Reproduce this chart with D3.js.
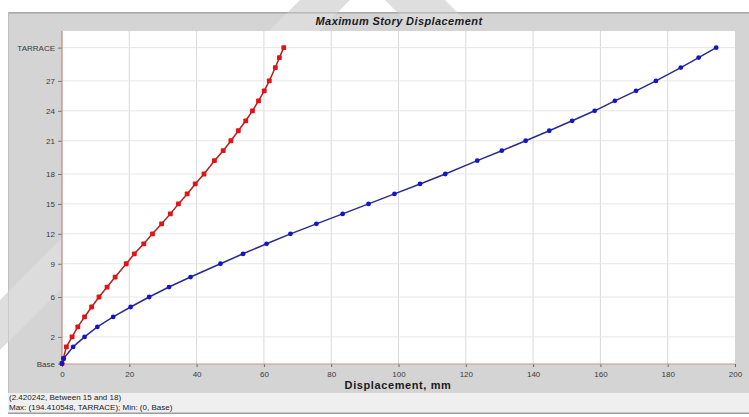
<!DOCTYPE html>
<html>
<head>
<meta charset="utf-8">
<script src="https://cdn.jsdelivr.net/npm/d3@7"></script>
<style>
  html, body { margin: 0; padding: 0; background: #ffffff; }
  svg { display: block; font-family: "Liberation Sans", Arial, sans-serif; }
</style>
</head>
<body>
<svg id="chart" width="749" height="417"></svg>
<script>
// Story levels (name and elevation in m)
const storyNames = ["Base", "Plinth", "1", "2", "3", "4", "5", "6", "7", "8", "9", "10",
  "11", "12", "13", "14", "15", "16", "17", "18", "19", "20", "21", "22", "23", "24",
  "25", "26", "27", "28", "29", "TARRACE"];
const storyElevations = [0, 1.5, 5, 8, 11, 14, 17, 20, 23, 26, 30, 33, 36, 39, 42, 45,
  48, 51, 54, 57, 61, 64, 67, 70, 73, 76, 79, 82, 85, 89, 92, 95];

// Maximum story displacement, mm
const dispRed = [0, 0.4, 1.3, 3.0, 4.7, 6.7, 8.8, 11.0, 13.4, 15.8, 19.1, 21.5, 24.3,
  26.9, 29.6, 32.2, 34.6, 37.2, 39.6, 42.2, 45.3, 47.9, 50.2, 52.4, 54.6, 56.6, 58.4,
  60.1, 61.6, 63.4, 64.6, 65.9];
const dispBlue = [0, 0.5, 3.3, 6.7, 10.5, 15.2, 20.4, 25.9, 31.8, 38.2, 47.1, 53.8,
  60.8, 67.9, 75.6, 83.4, 91.1, 98.8, 106.4, 113.9, 123.4, 130.7, 137.8, 144.8, 151.6,
  158.3, 164.3, 170.6, 176.5, 183.9, 189.2, 194.41];

// Axis ticks
const yTickStories = ["Base", "2", "6", "9", "12", "15", "18", "21", "24", "27", "TARRACE"];
const xTicks = [0, 20, 40, 60, 80, 100, 120, 140, 160, 180, 200];

const titleText = "Maximum Story Displacement";
const xTitle = "Displacement, mm";
const statusLines = ["(2.420242, Between 15 and 18)", "Max: (194.410548, TARRACE);   Min: (0, Base)"];

const svg = d3.select("#chart");
const W = 749, H = 417;
const plot = { left: 62, right: 735, top: 31, bottom: 364 };

const x = d3.scaleLinear().domain([0, 200]).range([plot.left, plot.right]);
const y = d3.scaleLinear().domain([0, 100]).range([363.5, 31]);
const elevOf = name => storyElevations[storyNames.indexOf(name)];

// faint diagonal marks around the window
const bandA = [[300, 0], [350, 0], [-10, 360], [-10, 310]];
const bandB = [[385, 0], [445, 0], [470, 25], [410, 25]];
const bands = [bandA, bandB].map(p => p.map(d => d.join(",")).join(" "));

svg.append("rect").attr("x", 0).attr("y", 0).attr("width", W).attr("height", H).attr("fill", "#ffffff");
bands.forEach(p => svg.append("polygon").attr("points", p).attr("fill", "#d6d6d6"));

// window frame
svg.append("rect").attr("x", 8).attr("y", 12).attr("width", W - 8).attr("height", 381).attr("fill", "#d4d4d4");
svg.append("rect").attr("x", 8).attr("y", 12).attr("width", W - 8).attr("height", 1.6).attr("fill", "#a9a9a9");
svg.append("rect").attr("x", 8).attr("y", 12).attr("width", 1).attr("height", 400).attr("fill", "#bdbdbd");
bands.forEach(p => svg.append("polygon").attr("points", p).attr("fill", "#ffffff").attr("opacity", 0.2));
// status bar
svg.append("rect").attr("x", 8).attr("y", 393).attr("width", W - 8).attr("height", 20).attr("fill", "#efefef");
svg.append("rect").attr("x", 8).attr("y", 412.5).attr("width", W - 8).attr("height", 1.5).attr("fill", "#9e9e9e");

// plot area
svg.append("rect").attr("x", plot.left).attr("y", plot.top)
  .attr("width", plot.right - plot.left).attr("height", plot.bottom - plot.top)
  .attr("fill", "#ffffff");

// grid
const grid = svg.append("g");
grid.selectAll("line.v").data(xTicks.slice(1, -1)).join("line")
  .attr("x1", d => x(d)).attr("x2", d => x(d))
  .attr("y1", plot.top).attr("y2", plot.bottom)
  .attr("stroke", "#d9d9d9").attr("stroke-width", 1);
grid.selectAll("line.h").data(yTickStories.slice(1)).join("line")
  .attr("x1", plot.left).attr("x2", plot.right)
  .attr("y1", d => y(elevOf(d))).attr("y2", d => y(elevOf(d)))
  .attr("stroke", "#e6e6e6").attr("stroke-width", 1);

// axes
const yAxis = d3.axisLeft(y)
  .tickValues(yTickStories.map(elevOf))
  .tickFormat(v => storyNames[storyElevations.indexOf(v)])
  .tickSize(4).tickPadding(3);
const gy = svg.append("g").attr("transform", `translate(${plot.left},0)`).call(yAxis);
gy.select(".domain").remove();
gy.selectAll(".tick line").attr("stroke", "#777");
gy.selectAll(".tick text").attr("fill", "#3a3a3a").attr("font-size", 8)
  .attr("font-family", "Liberation Sans, Arial, sans-serif");

const xAxis = d3.axisBottom(x).tickValues(xTicks).tickFormat(d3.format("d"))
  .tickSize(3).tickPadding(4);
const gx = svg.append("g").attr("transform", `translate(0,${plot.bottom})`).call(xAxis);
gx.select(".domain").remove();
gx.selectAll(".tick line").attr("stroke", "#666");
gx.selectAll(".tick text").attr("fill", "#3a3a3a").attr("font-size", 8)
  .attr("font-family", "Liberation Sans, Arial, sans-serif");

// axis lines
svg.append("line").attr("x1", plot.left).attr("x2", plot.left)
  .attr("y1", plot.top).attr("y2", plot.bottom)
  .attr("stroke", "#c48484").attr("stroke-width", 1.2);
svg.append("line").attr("x1", plot.left).attr("x2", plot.right)
  .attr("y1", plot.bottom).attr("y2", plot.bottom)
  .attr("stroke", "#d08f8f").attr("stroke-width", 1.2);

// titles
svg.append("text").attr("x", 399).attr("y", 24.5).attr("text-anchor", "middle")
  .attr("font-size", 11).attr("font-weight", "bold").attr("font-style", "italic")
  .attr("letter-spacing", 0.4).attr("fill", "#1a1a1a").text(titleText);
svg.append("text").attr("x", 398).attr("y", 389).attr("text-anchor", "middle")
  .attr("font-size", 11).attr("font-weight", "bold").attr("letter-spacing", 0.6)
  .attr("fill", "#1a1a1a").text(xTitle);

// status text
svg.selectAll("text.status").data(statusLines).join("text")
  .attr("class", "status")
  .attr("x", 9).attr("y", (d, i) => 400 + i * 10)
  .attr("font-size", 8).attr("fill", "#222").text(d => d);

// series
const pts = vals => vals.map((v, i) => [v, storyElevations[i]]);
const line = d3.line().x(d => x(d[0])).y(d => y(d[1]));

const series = [
  { vals: dispRed, stroke: "#b51f1f", fill: "#e01414", shape: "square" },
  { vals: dispBlue, stroke: "#2b2b8c", fill: "#1515c8", shape: "circle" }
];
series.forEach(s => {
  const data = pts(s.vals);
  svg.append("path").datum(data).attr("d", line)
    .attr("fill", "none").attr("stroke", s.stroke).attr("stroke-width", 1.5);
  const g = svg.append("g");
  if (s.shape === "square") {
    g.selectAll("rect").data(data).join("rect")
      .attr("x", d => x(d[0]) - 2.4).attr("y", d => y(d[1]) - 2.4)
      .attr("width", 4.8).attr("height", 4.8).attr("rx", 0.8)
      .attr("fill", s.fill);
  } else {
    g.selectAll("circle").data(data).join("circle")
      .attr("cx", d => x(d[0])).attr("cy", d => y(d[1])).attr("r", 2.4)
      .attr("fill", s.fill);
  }
});
</script>
</body>
</html>
